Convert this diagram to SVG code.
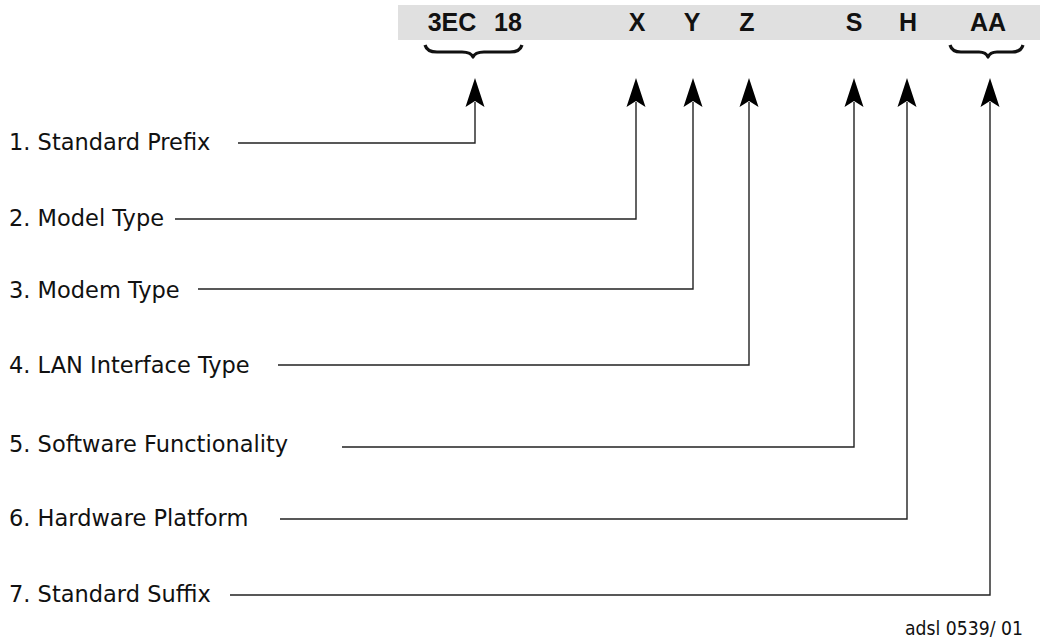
<svg xmlns="http://www.w3.org/2000/svg" width="1040" height="643" viewBox="0 0 1040 643">
<style>
.lbl{font-family:"DejaVu Sans","Liberation Sans",sans-serif;font-size:22.5px;fill:#111}
.ftr{font-family:"DejaVu Sans","Liberation Sans",sans-serif;font-size:20px;fill:#111;text-anchor:end}
.code{font-family:"Liberation Sans",Arial,sans-serif;font-size:25px;font-weight:bold;fill:#111;text-anchor:middle}
.conn{fill:none;stroke:#222;stroke-width:1.4}
.brace{fill:none;stroke:#111;stroke-width:3.2;stroke-linejoin:round}
.head{fill:#000}
</style>
<rect x="398" y="5" width="642" height="35" fill="#e0e0e0"/>
<g id="code">
<text class="code" x="452" y="31">3EC</text>
<text class="code" x="508" y="31">18</text>
<text class="code" x="637" y="31">X</text>
<text class="code" x="692" y="31">Y</text>
<text class="code" x="747" y="31">Z</text>
<text class="code" x="854" y="31">S</text>
<text class="code" x="908" y="31">H</text>
<text class="code" x="988" y="31">AA</text>
</g>
<g id="braces">
<path class="brace" d="M425,45 Q427,52 437,52 L462,52 Q471,52 473,57 Q475,52 484,52 L510,52 Q520,52 522,45"/>
<path class="brace" d="M950,45 Q952,52 961,52 L979,52 Q986,52 988,57 Q990,52 997,52 L1012,52 Q1021,52 1023,45"/>
</g>
<g id="n1"><text class="lbl" x="9" y="150">1. Standard Prefix</text></g>
<g id="n2"><text class="lbl" x="9" y="226">2. Model Type</text></g>
<g id="n3"><text class="lbl" x="9" y="298">3. Modem Type</text></g>
<g id="n4"><text class="lbl" x="9" y="373">4. LAN Interface Type</text></g>
<g id="n5"><text class="lbl" x="9" y="452">5. Software Functionality</text></g>
<g id="n6"><text class="lbl" x="9" y="526">6. Hardware Platform</text></g>
<g id="n7"><text class="lbl" x="9" y="602">7. Standard Suffix</text></g>
<g id="footer"><text class="ftr" x="1023" y="635" textLength="118" lengthAdjust="spacingAndGlyphs">adsl 0539/ 01</text></g>
<g id="connectors">
<path class="conn" d="M238,143 H475 V102"/>
<path class="conn" d="M175,219 H636 V102"/>
<path class="conn" d="M198,289 H693 V102"/>
<path class="conn" d="M278,365 H749 V102"/>
<path class="conn" d="M342,447 H854 V102"/>
<path class="conn" d="M280,519 H907 V102"/>
<path class="conn" d="M230,595 H990 V102"/>
<path class="head" d="M475,78 L484.5,107 L475,101 L465.5,107 Z"/>
<path class="head" d="M636,78 L645.5,107 L636,101 L626.5,107 Z"/>
<path class="head" d="M693,78 L702.5,107 L693,101 L683.5,107 Z"/>
<path class="head" d="M749,78 L758.5,107 L749,101 L739.5,107 Z"/>
<path class="head" d="M854,78 L863.5,107 L854,101 L844.5,107 Z"/>
<path class="head" d="M907,78 L916.5,107 L907,101 L897.5,107 Z"/>
<path class="head" d="M990,78 L999.5,107 L990,101 L980.5,107 Z"/>
</g>
</svg>
